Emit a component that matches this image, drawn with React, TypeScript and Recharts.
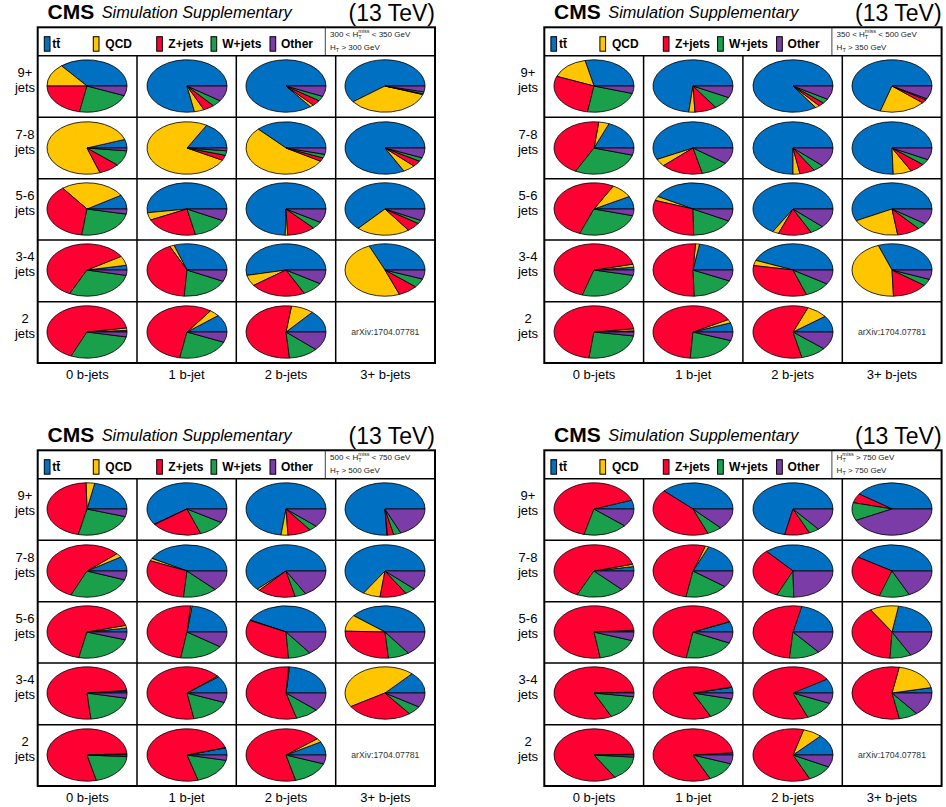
import { PieChart, Pie, Cell } from 'recharts';

// Background composition (%) per search bin: rows are N_jet bins, columns are N_b-jet bins.
// Slice order: ttbar, QCD, Z+jets, W+jets, Other.
const processes = ['tt\u0304', 'QCD', 'Z+jets', 'W+jets', 'Other'];
const colors = ['#0070c2', '#ffc600', '#ff0032', '#1a9f4a', '#7c3ca8'];
const jetRows = ['9+', '7-8', '5-6', '3-4', '2'];
const bjetCols = ['0 b-jets', '1 b-jet', '2 b-jets', '3+ b-jets'];

const mhtBin300 = [
  [[36, 14, 22, 22, 6], [78, 4, 4.5, 4, 9.5], [85.5, 1.5, 3.5, 3, 6.5], [60.3, 34.4, 0.5, 1.2, 3.6]],
  [[5.3, 75, 8.5, 9.5, 1.7], [16.8, 75.5, 3.2, 2.8, 1.7], [37.2, 54.4, 2.2, 2.3, 3.9], [82.8, 5, 3.7, 2.3, 6.1]],
  [[8.8, 26.6, 37.5, 24, 3.1], [52.3, 4.6, 21.5, 14.3, 7.3], [74.7, 1, 11.4, 4.4, 8.5], [63.3, 21.7, 5.7, 2.1, 7.2]],
  [[2.9, 5.8, 59.2, 28.8, 3.3], [30.3, 1.8, 41.8, 19, 7.1], [53.3, 6.7, 22.6, 8.7, 8.7], [31.5, 49.4, 8, 5.5, 5.6]],
  [[1, 1.5, 66, 28.5, 3], [10.8, 4.2, 57.1, 21.5, 6.4], [13.6, 9.2, 53.6, 12, 11.6]],
];

const mhtBin350 = [
  [[28.6, 15.4, 28.4, 23, 4.6], [73.3, 2.5, 8.9, 8, 7.3], [84.6, 1.8, 2.4, 2.8, 8.4], [70.3, 18.6, 2.2, 0.8, 8.1]],
  [[18.9, 4.2, 44.3, 28.2, 4.4], [57.2, 4.6, 17, 11.3, 9.9], [75, 2.8, 6.1, 4.3, 11.8], [75.5, 7.5, 6.1, 3.6, 7.3]],
  [[7.9, 9.1, 52.2, 26.7, 4.1], [42.1, 2.6, 30.6, 17.2, 7.5], [66.6, 2.5, 13.4, 5.7, 11.8], [57.4, 19.9, 9.3, 3.9, 9.5]],
  [[1.7, 1.9, 66.7, 26.4, 3.3], [22.4, 1.6, 51.5, 17.7, 6.8], [44, 3.3, 33.2, 10.6, 8.9], [30.6, 45, 14.4, 4.2, 5.8]],
  [[0.7, 1.3, 71, 24.6, 2.4], [5.7, 2.2, 66, 20.8, 5.3], [10.2, 8.7, 59.7, 10.4, 11]],
];

const mhtBin500 = [
  [[21.9, 3.5, 46.1, 23.8, 4.7], [59.8, 0.3, 20.5, 10.8, 8.6], [73, 2.8, 9.5, 3.3, 11.4], [75.8, 0.2, 2.5, 3, 18.5]],
  [[9, 2.5, 57, 26, 5.5], [42, 1.6, 30, 13.9, 12.5], [62.2, 1.1, 15.4, 4.5, 16.8], [66, 7, 10.8, 4.2, 12]],
  [[2.4, 1.7, 67.6, 23.5, 4.8], [23, 0.6, 48.9, 18, 9.5], [42.5, 0.3, 33.2, 9.2, 14.8], [39.3, 10.2, 26.9, 8.6, 15]],
  [[1.2, 0.4, 75, 20.2, 3.2], [10.6, 0.6, 66.6, 16.3, 5.9], [23.6, 0.4, 55.3, 9.4, 11.3], [13.2, 45.5, 26.8, 5.6, 8.9]],
  [[0.5, 0.3, 78, 20.2, 1], [4.4, 0.2, 74.9, 17.2, 3.3], [8.3, 2.4, 68.2, 15.6, 5.5]],
];

const mhtBin750 = [
  [[5.5, 0, 65.5, 17.9, 11.1], [37.9, 0, 43.2, 6.1, 12.8], [71.7, 0, 10.1, 4.2, 14], [40.3, 0, 5.8, 11.1, 42.8]],
  [[2.7, 1.5, 63.9, 19.3, 12.6], [18.6, 1.4, 52.2, 17.6, 10.2], [36.5, 0, 31.9, 6.9, 24.7], [41.1, 0, 28.8, 12.2, 17.9]],
  [[0.8, 0.3, 76.4, 17.2, 5.3], [6.4, 0.2, 65.7, 20.8, 6.9], [21.5, 0, 52.1, 12.5, 13.9], [22.4, 11.6, 40.2, 8.6, 17.2]],
  [[0.5, 0, 81.7, 15.6, 2.2], [3.5, 0.2, 78.6, 14, 3.7], [8.9, 0, 72.2, 12.4, 6.5], [3.3, 18.8, 55.9, 7.6, 14.4]],
  [[0.5, 0, 83.3, 14.9, 1.3], [1.4, 0, 80.7, 12.5, 5.4], [12.9, 7.8, 61.2, 10.6, 7.5]],
];

const panels = [
  { dx: 0, dy: 0, labelX: 25, low: '300', high: '350', ht: '300', values: mhtBin300 },
  { dx: 506.6, dy: 0, labelX: 528, low: '350', high: '500', ht: '350', values: mhtBin350 },
  { dx: 0, dy: 423, labelX: 25, low: '500', high: '750', ht: '500', values: mhtBin500 },
  { dx: 506.6, dy: 423, labelX: 528, low: null, high: '750', ht: '750', values: mhtBin750 },
];

const FONT = '"Liberation Sans", Arial, Helvetica, sans-serif';
const BOX = { left: 37.7, right: 435, top: 27.3, legendBottom: 55.7, bottom: 363 };
const colLines = [137, 236.3, 335.7];
const rowLines = [117.3, 178.7, 240, 301.7];
const colEdges = [BOX.left, ...colLines, BOX.right];
const rowEdges = [BOX.legendBottom, ...rowLines, BOX.bottom];
const legendBoxX = [44.3, 93.3, 156.7, 211, 270];
const legendTextX = [52.3, 105.3, 168.3, 222.3, 281];

const RX = 40;
const SQUASH = 0.655;

function EllipsePie({ values, x, y }: { values: number[]; x: number; y: number }) {
  const data = processes.map((name, i) => ({ name, value: values[i] }));
  const size = RX * 2 + 4;
  return (
    <div
      style={{
        position: 'absolute',
        left: x - size / 2,
        top: y - size / 2,
        width: size,
        height: size,
        transform: `scaleY(${SQUASH})`,
      }}
    >
      <PieChart width={size} height={size} margin={{ top: 0, right: 0, bottom: 0, left: 0 }}>
        <Pie
          data={data}
          dataKey="value"
          cx="50%"
          cy="50%"
          outerRadius={RX}
          startAngle={0}
          endAngle={360}
          stroke="#000"
          strokeWidth={1}
          isAnimationActive={false}
        >
          {data.map((d, i) => (
            <Cell key={d.name} fill={colors[i]} vectorEffect="non-scaling-stroke" />
          ))}
        </Pie>
      </PieChart>
    </div>
  );
}

function MhtText({ x, y, low, high }: { x: number; y: number; low: string | null; high: string }) {
  return (
    <text x={x} y={y} fontSize={8} fontFamily={FONT} fill="#222" style={{ whiteSpace: 'pre' }}>
      {low && <tspan>{`${low} < `}</tspan>}
      <tspan>H</tspan>
      <tspan fontSize={5.5} dy={2}>T</tspan>
      <tspan fontSize={5.5} dx={-3.4} dy={-6}>miss</tspan>
      <tspan dy={4}>{low ? ` < ${high} GeV` : ` > ${high} GeV`}</tspan>
    </text>
  );
}

function PanelFrame({ p }: { p: (typeof panels)[number] }) {
  const { dx, dy } = p;
  return (
    <g>
      <text x={dx + 47.5} y={dy + 18.5} fontSize={21} fontWeight="bold" fontFamily={FONT}>CMS</text>
      <text x={dx + 101.7} y={dy + 18.3} fontSize={16.3} fontStyle="italic" fontFamily={FONT}>
        Simulation Supplementary
      </text>
      <text x={dx + 435} y={dy + 20.7} fontSize={23} textAnchor="end" fontFamily={FONT}>(13 TeV)</text>

      {processes.map((name, i) => (
        <g key={name}>
          <rect x={dx + legendBoxX[i]} y={dy + 36.7} width={5.7} height={14.5} fill={colors[i]} stroke="#000" strokeWidth={1} />
          <text x={dx + legendTextX[i]} y={dy + 48.3} fontSize={12} fontWeight="bold" fontFamily={FONT}>{name}</text>
        </g>
      ))}
      <line x1={dx + 325.3} x2={dx + 325.3} y1={dy + BOX.top} y2={dy + BOX.legendBottom} stroke="#444" strokeWidth={1} />
      <MhtText x={dx + 330} y={dy + 37.3} low={p.low} high={p.high} />
      <text x={dx + 330} y={dy + 50} fontSize={8} fontFamily={FONT} fill="#222" style={{ whiteSpace: 'pre' }}>
        <tspan>H</tspan>
        <tspan fontSize={5.5} dy={2}>T</tspan>
        <tspan dy={-2}>{` > ${p.ht} GeV`}</tspan>
      </text>

      <rect
        x={dx + BOX.left}
        y={dy + BOX.top}
        width={BOX.right - BOX.left}
        height={BOX.bottom - BOX.top}
        fill="none"
        stroke="#000"
        strokeWidth={2}
      />
      <line x1={dx + BOX.left} x2={dx + BOX.right} y1={dy + BOX.legendBottom} y2={dy + BOX.legendBottom} stroke="#000" strokeWidth={1.5} />
      {rowLines.map((ry) => (
        <line key={ry} x1={dx + BOX.left} x2={dx + BOX.right} y1={dy + ry} y2={dy + ry} stroke="#000" strokeWidth={1.5} />
      ))}
      {colLines.map((cx) => (
        <line key={cx} x1={dx + cx} x2={dx + cx} y1={dy + BOX.legendBottom} y2={dy + BOX.bottom} stroke="#000" strokeWidth={1.5} />
      ))}

      {jetRows.map((label, r) => {
        const cy = dy + (rowEdges[r] + rowEdges[r + 1]) / 2;
        return (
          <g key={label}>
            <text x={p.labelX} y={cy - 9.5} fontSize={13} textAnchor="middle" fontFamily={FONT}>{label}</text>
            <text x={p.labelX} y={cy + 5.5} fontSize={13} textAnchor="middle" fontFamily={FONT}>jets</text>
          </g>
        );
      })}
      {bjetCols.map((label, c) => (
        <text
          key={label}
          x={dx + (colEdges[c] + colEdges[c + 1]) / 2}
          y={dy + 378.5}
          fontSize={13}
          textAnchor="middle"
          fontFamily={FONT}
        >
          {label}
        </text>
      ))}
      <text
        x={dx + (colEdges[3] + colEdges[4]) / 2}
        y={dy + (rowEdges[4] + rowEdges[5]) / 2 + 3}
        fontSize={8.7}
        textAnchor="middle"
        fontFamily={FONT}
        fill="#333"
      >
        arXiv:1704.07781
      </text>
    </g>
  );
}

export default function App() {
  return (
    <div style={{ position: 'absolute', left: 0, top: 0, width: 946, height: 807, background: '#fff', overflow: 'hidden' }}>
      <svg width={946} height={807} style={{ position: 'absolute', left: 0, top: 0 }}>
        {panels.map((p, i) => (
          <PanelFrame key={i} p={p} />
        ))}
      </svg>
      {panels.map((p, i) =>
        p.values.map((row, r) =>
          row.map((values, c) => (
            <EllipsePie
              key={`${i}-${r}-${c}`}
              values={values}
              x={p.dx + (colEdges[c] + colEdges[c + 1]) / 2}
              y={p.dy + (rowEdges[r] + rowEdges[r + 1]) / 2 - 0.5}
            />
          )),
        ),
      )}
    </div>
  );
}
